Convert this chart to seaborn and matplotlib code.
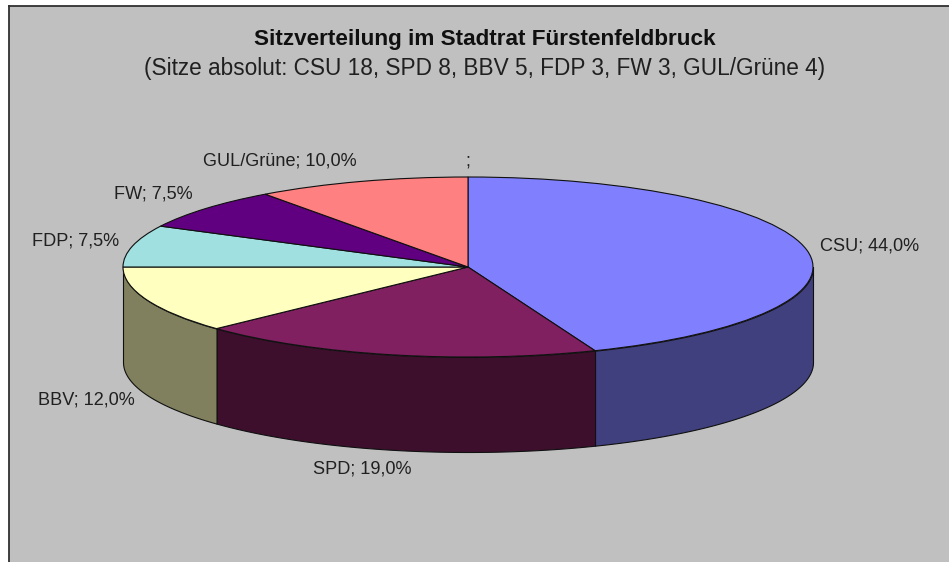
"""Sitzverteilung im Stadtrat - pseudo 3D pie in the old Excel look."""
import numpy as np
import matplotlib
matplotlib.use('Agg')
import matplotlib.pyplot as plt
import seaborn as sns

# data
parties = ['CSU', 'SPD', 'BBV', 'FDP', 'FW', 'GUL/Grüne']
shares = [44.0, 19.0, 12.0, 7.5, 7.5, 10.0]
title_main = 'Sitzverteilung im Stadtrat Fürstenfeldbruck'
title_sub = '(Sitze absolut: CSU 18, SPD 8, BBV 5, FDP 3, FW 3, GUL/Grüne 4)'

# styles
top_colors = ['#8080FF', '#802060', '#FFFFC0', '#A0E0E0', '#600080', '#FF8080']
side_colors = ['#40407F', '#3D0F2D', '#80805F', '#50707F', '#300040', '#7F4040']
bg_color = '#C0C0C0'

# layout, in pixels of the 949x562 picture
W, H = 949, 562
FRAME_LEFT, FRAME_TOP = 9, 6
CX, CY = 468, 267
RX, RY = 345, 90
DEPTH = 95 / RY
label_pos = [(870, 246), (362, 469), (86, 400), (76, 241), (153, 194), (280, 161)]

sns.set_theme(style='white')
plt.rcParams['font.family'] = ['Liberation Sans', 'DejaVu Sans']

fig = plt.figure(figsize=(W / 100, H / 100), dpi=100, facecolor='white')
ax = fig.add_axes([FRAME_LEFT / W, 0, (W - FRAME_LEFT) / W, (H - FRAME_TOP) / H])

# side walls, only the front half of the rim (90..270 deg clockwise from top)
edges = np.concatenate([[0], np.cumsum(shares)]) / sum(shares) * 360
for i, color in enumerate(side_colors):
    a0, a1 = max(edges[i], 90), min(edges[i + 1], 270)
    if a1 <= a0:
        continue
    theta = np.radians(np.linspace(a0, a1, 120))
    x, y = np.sin(theta), np.cos(theta)
    ax.fill_between(x, y, y - DEPTH, color=color, edgecolor='#101010', linewidth=0.8)

# top face
ax.pie(shares, colors=sns.color_palette(top_colors), startangle=90, counterclock=False,
       wedgeprops={'edgecolor': '#101010', 'linewidth': 0.8})

# pie() forces equal aspect, squash it to the ellipse
ax.set_aspect('auto')
ax.set_xlim((FRAME_LEFT - CX) / RX, (W - CX) / RX)
ax.set_ylim((CY - H) / RY, (CY - FRAME_TOP) / RY)
ax.set_facecolor(bg_color)
ax.set_frame_on(True)
sns.despine(ax=ax, top=False, left=False, right=True, bottom=True)
for side in ['top', 'left']:
    ax.spines[side].set_color('#303030')
    ax.spines[side].set_linewidth(1.3)

for name, share, (px, py) in zip(parties, shares, label_pos):
    label = f'{name}; {share:.1f}%'.replace('.', ',')
    fig.text(px / W, 1 - py / H, label, ha='center', va='center', fontsize=13.1, color='#202020')
fig.text(468 / W, 1 - 161 / H, ';', ha='center', va='center', fontsize=13.1, color='#202020')

fig.text(485 / W, 1 - 40 / H, title_main, ha='center', va='center', fontsize=16.2,
         fontweight='bold', color='#101010')
fig.text(485 / W, 1 - 69 / H, title_sub, ha='center', va='center', fontsize=16.3, color='#202020')

plt.savefig('out.png', dpi=100)
plt.close()
